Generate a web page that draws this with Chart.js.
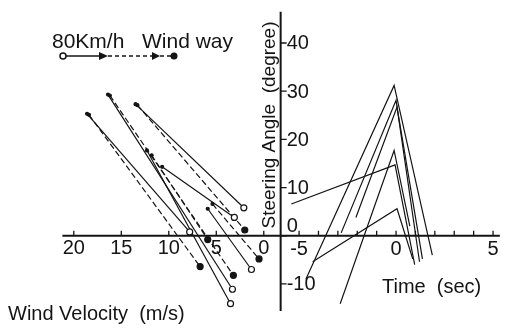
<!DOCTYPE html>
<html>
<head>
<meta charset="utf-8">
<script src="https://cdn.jsdelivr.net/npm/chart.js@4.4.0/dist/chart.umd.min.js"></script>
<style>
  html, body { margin: 0; padding: 0; background: #fff; }
</style>
</head>
<body>
<canvas id="steerChart" width="506" height="332"></canvas>
<script>
// left half: wind velocity (m/s) -> steering angle (deg), [v0, a0, v1, a1]
const solidRuns = [
  [18.6, 25.3, 7.8, 0.8],
  [16.4, 29.3, 3.3, -11.1],
  [13.5, 27.3, 2.1, 5.8],
  [10.7, 14.3, 3.1, 3.8],
  [12.3, 17.7, 3.5, -14.1],
  [5.9, 5.6, 1.3, -7.0]
];
const dashedRuns = [
  [18.4, 25.1, 6.7, -6.4],
  [16.2, 29.1, 3.2, -8.2],
  [13.3, 27.1, 2.0, 1.2],
  [11.8, 16.7, 5.9, -0.8],
  [5.4, 6.6, 0.5, -4.8]
];
// right half: time (sec) -> steering angle (deg), [t0, a0, t1, a1, t2, a2]
const timeRuns = [
  [-4.65, -9.0, -0.1, 31.2, 1.87, -4.0],
  [-2.88, -14.1, -0.1, 17.7, 0.71, 2.0],
  [-2.83, 0.6, 0.0, 28.1, 1.21, -5.4],
  [-2.07, 3.8, 0.05, 26.7, 1.36, -4.8],
  [-5.4, 6.6, -0.05, 14.7, 0.96, -6.0],
  [-4.3, -5.4, 0.05, 5.6, 0.86, -4.8]
];
const angleTicks = [40, 30, 20, 10, 0, -10];
const velocityTicks = [20, 15, 10, 5, 0];
const timeTicks = [-5, 0, 5];
const timeMinor = [-5, -4, -3, -2, -1, 0, 1, 2, 3, 4, 5];

const FONT = '"Liberation Sans", Arial, sans-serif';
const INK = '#141414';

const datasets = [];
solidRuns.forEach(r => datasets.push({
  xAxisID: 'xv',
  data: [{ x: r[0], y: r[1] }, { x: r[2], y: r[3] }],
  borderDash: [],
  pointBackgroundColor: [INK, '#fff'],
  pointRadius: [1.5, 3]
}));
dashedRuns.forEach(r => datasets.push({
  xAxisID: 'xv',
  data: [{ x: r[0], y: r[1] }, { x: r[2], y: r[3] }],
  borderDash: [6, 3],
  pointBackgroundColor: [INK, INK],
  pointRadius: [1.5, 3]
}));
timeRuns.forEach(r => datasets.push({
  xAxisID: 'xt',
  data: [{ x: r[0], y: r[1] }, { x: r[2], y: r[3] }, { x: r[4], y: r[5] }],
  borderDash: [],
  pointRadius: 0
}));
datasets.forEach(d => {
  d.yAxisID = 'y';
  d.showLine = true;
  d.borderColor = INK;
  d.borderWidth = 1.2;
  d.pointBorderColor = INK;
  d.pointBorderWidth = 1.2;
  d.tension = 0;
});

// axes cross in the middle of the plot, so they are drawn here from the scales
const crossAxes = {
  id: 'crossAxes',
  beforeDatasetsDraw(chart) {
    const { ctx, scales: { xv, xt, y } } = chart;
    const y0 = y.getPixelForValue(0);
    const ax = xt.getPixelForValue(-5.95);
    ctx.save();
    ctx.strokeStyle = INK;
    ctx.fillStyle = INK;
    ctx.lineWidth = 2;
    ctx.beginPath();
    ctx.moveTo(xv.getPixelForValue(21.2), y0);
    ctx.lineTo(xt.getPixelForValue(5.35), y0);
    ctx.moveTo(ax, y.getPixelForValue(46.5));
    ctx.lineTo(ax, y.getPixelForValue(-15.6));
    ctx.stroke();

    ctx.lineWidth = 1.3;
    ctx.beginPath();
    angleTicks.forEach(a => {
      const py = y.getPixelForValue(a);
      ctx.moveTo(ax, py);
      ctx.lineTo(ax + 6, py);
    });
    velocityTicks.forEach(v => {
      const px = xv.getPixelForValue(v);
      ctx.moveTo(px, y0);
      ctx.lineTo(px, y0 - 5);
    });
    timeMinor.forEach(t => {
      const px = xt.getPixelForValue(t);
      ctx.moveTo(px, y0);
      ctx.lineTo(px, y0 - 5);
    });
    ctx.stroke();

    ctx.font = '20px ' + FONT;
    ctx.textBaseline = 'middle';
    ctx.textAlign = 'left';
    angleTicks.forEach(a => {
      const py = y.getPixelForValue(a) + (a === 0 ? -9 : 1);
      ctx.fillText(String(a), ax + 6, py);
    });
    ctx.textAlign = 'center';
    velocityTicks.forEach(v => {
      ctx.fillText(String(v), xv.getPixelForValue(v), y0 + 13);
    });
    timeTicks.forEach(t => {
      ctx.fillText(String(t), xt.getPixelForValue(t), y0 + 14);
    });
    ctx.restore();
  },
  afterDraw(chart) {
    const { ctx } = chart;
    ctx.save();
    ctx.fillStyle = INK;
    ctx.strokeStyle = INK;
    ctx.textBaseline = 'alphabetic';
    ctx.textAlign = 'left';
    ctx.font = '21px ' + FONT;
    ctx.fillText('80Km/h', 52, 48);
    ctx.fillText('Wind way', 142, 48);
    ctx.font = '20px ' + FONT;
    ctx.fillText('Wind Velocity  (m/s)', 8, 320);
    ctx.fillText('Time  (sec)', 382, 293);
    ctx.save();
    ctx.translate(275, 125);
    ctx.rotate(-Math.PI / 2);
    ctx.textAlign = 'center';
    ctx.font = '19px ' + FONT;
    ctx.fillText('Steering Angle  (degree)', 0, 0);
    ctx.restore();

    // legend sample: open circle -> solid -> dashed -> filled dot
    ctx.lineWidth = 1.5;
    ctx.beginPath();
    ctx.moveTo(66, 56);
    ctx.lineTo(100, 56);
    ctx.stroke();
    ctx.setLineDash([4, 3]);
    ctx.beginPath();
    ctx.moveTo(108, 56);
    ctx.lineTo(153, 56);
    ctx.moveTo(160, 56);
    ctx.lineTo(171, 56);
    ctx.stroke();
    ctx.setLineDash([]);
    [[99, 108], [152, 160]].forEach(([a, b]) => {
      ctx.beginPath();
      ctx.moveTo(a, 52);
      ctx.lineTo(b, 56);
      ctx.lineTo(a, 60);
      ctx.closePath();
      ctx.fill();
    });
    ctx.beginPath();
    ctx.arc(63, 56, 3, 0, Math.PI * 2);
    ctx.fillStyle = '#fff';
    ctx.fill();
    ctx.stroke();
    ctx.fillStyle = INK;
    ctx.beginPath();
    ctx.arc(174, 56, 3.5, 0, Math.PI * 2);
    ctx.fill();
    ctx.restore();
  }
};

new Chart(document.getElementById('steerChart'), {
  type: 'scatter',
  data: { datasets },
  options: {
    responsive: false,
    animation: false,
    devicePixelRatio: 1,
    layout: { padding: 0 },
    plugins: { legend: { display: false }, tooltip: { enabled: false } },
    scales: {
      xv: { type: 'linear', axis: 'x', display: false, reverse: true, min: -24.95, max: 27.22 },
      xt: { type: 'linear', axis: 'x', display: false, min: -20.15, max: 5.40 },
      y: { type: 'linear', display: false, min: -18.89, max: 47.84 }
    }
  },
  plugins: [crossAxes]
});
</script>
</body>
</html>
